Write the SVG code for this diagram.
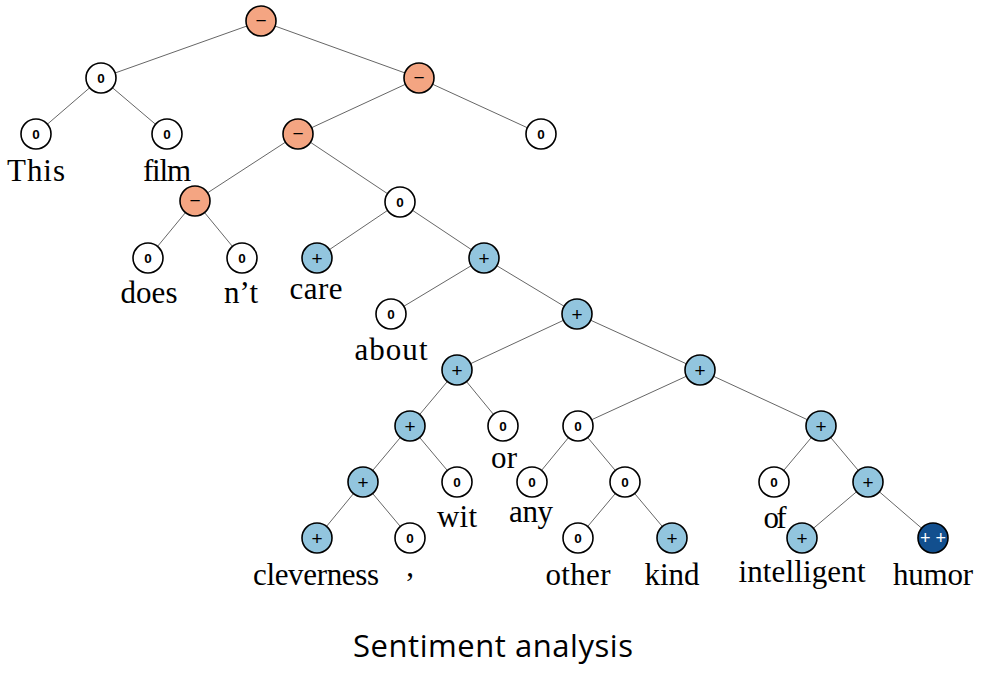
<svg xmlns="http://www.w3.org/2000/svg" width="987" height="691" viewBox="0 0 987 691">
<style>
.e{stroke:#666;stroke-width:1;fill:none}
.n circle{stroke:#000;stroke-width:1.6}
.z circle{fill:#fff}
.m circle{fill:#f4a582}
.p circle{fill:#92c5de}
.pp circle{fill:#124f8e}
.n text{font-family:"Liberation Sans",Arial,sans-serif;text-anchor:middle}
.z text{font-size:13.5px;font-weight:bold;fill:#000}
.m text,.p text{font-size:19px;fill:#000}
.pp text{font-size:18px;fill:#fff}
.w{font-family:"Liberation Serif","Times New Roman",serif;font-size:31px;fill:#000;text-anchor:middle}
.cap{font-family:"Open Sans","Liberation Sans",sans-serif;font-size:31px;fill:#000;text-anchor:middle}
</style>
<rect width="987" height="691" fill="#fff"/>
<g id="edges">
<line class="e" x1="261" y1="21" x2="101" y2="78"/>
<line class="e" x1="261" y1="21" x2="419" y2="78"/>
<line class="e" x1="101" y1="78" x2="36" y2="134"/>
<line class="e" x1="101" y1="78" x2="167" y2="134"/>
<line class="e" x1="419" y1="78" x2="298" y2="134"/>
<line class="e" x1="419" y1="78" x2="541" y2="134"/>
<line class="e" x1="298" y1="134" x2="195" y2="201"/>
<line class="e" x1="298" y1="134" x2="400" y2="202"/>
<line class="e" x1="195" y1="201" x2="148" y2="258"/>
<line class="e" x1="195" y1="201" x2="242" y2="258"/>
<line class="e" x1="400" y1="202" x2="317" y2="258"/>
<line class="e" x1="400" y1="202" x2="484" y2="258"/>
<line class="e" x1="484" y1="258" x2="391" y2="314"/>
<line class="e" x1="484" y1="258" x2="577" y2="314"/>
<line class="e" x1="577" y1="314" x2="457" y2="370"/>
<line class="e" x1="577" y1="314" x2="700" y2="370"/>
<line class="e" x1="457" y1="370" x2="410" y2="426"/>
<line class="e" x1="457" y1="370" x2="503" y2="426"/>
<line class="e" x1="700" y1="370" x2="578" y2="426"/>
<line class="e" x1="700" y1="370" x2="821" y2="426"/>
<line class="e" x1="410" y1="426" x2="363" y2="482"/>
<line class="e" x1="410" y1="426" x2="457" y2="482"/>
<line class="e" x1="578" y1="426" x2="532" y2="482"/>
<line class="e" x1="578" y1="426" x2="625" y2="482"/>
<line class="e" x1="821" y1="426" x2="774" y2="482"/>
<line class="e" x1="821" y1="426" x2="868" y2="482"/>
<line class="e" x1="363" y1="482" x2="317" y2="538"/>
<line class="e" x1="363" y1="482" x2="410" y2="538"/>
<line class="e" x1="625" y1="482" x2="578" y2="538"/>
<line class="e" x1="625" y1="482" x2="672" y2="538"/>
<line class="e" x1="868" y1="482" x2="802" y2="538"/>
<line class="e" x1="868" y1="482" x2="933" y2="538"/>
</g>
<g id="n1" class="n m"><circle cx="261" cy="21" r="15"/><text x="261" y="27">−</text></g>
<g id="n2" class="n z"><circle cx="101" cy="78" r="15"/><text x="101" y="83">0</text></g>
<g id="n3" class="n z"><circle cx="36" cy="134" r="15"/><text x="36" y="139">0</text></g>
<g id="n4" class="n z"><circle cx="167" cy="134" r="15"/><text x="167" y="139">0</text></g>
<g id="n5" class="n m"><circle cx="419" cy="78" r="15"/><text x="419" y="84">−</text></g>
<g id="n6" class="n m"><circle cx="298" cy="134" r="15"/><text x="298" y="140">−</text></g>
<g id="n7" class="n z"><circle cx="541" cy="134" r="15"/><text x="541" y="139">0</text></g>
<g id="n8" class="n m"><circle cx="195" cy="201" r="15"/><text x="195" y="207">−</text></g>
<g id="n9" class="n z"><circle cx="400" cy="202" r="15"/><text x="400" y="207">0</text></g>
<g id="n10" class="n z"><circle cx="148" cy="258" r="15"/><text x="148" y="263">0</text></g>
<g id="n11" class="n z"><circle cx="242" cy="258" r="15"/><text x="242" y="263">0</text></g>
<g id="n12" class="n p"><circle cx="317" cy="258" r="15"/><text x="317" y="264.5">+</text></g>
<g id="n13" class="n p"><circle cx="484" cy="258" r="15"/><text x="484" y="264.5">+</text></g>
<g id="n14" class="n z"><circle cx="391" cy="314" r="15"/><text x="391" y="319">0</text></g>
<g id="n15" class="n p"><circle cx="577" cy="314" r="15"/><text x="577" y="320.5">+</text></g>
<g id="n16" class="n p"><circle cx="457" cy="370" r="15"/><text x="457" y="376.5">+</text></g>
<g id="n17" class="n p"><circle cx="700" cy="370" r="15"/><text x="700" y="376.5">+</text></g>
<g id="n18" class="n p"><circle cx="410" cy="426" r="15"/><text x="410" y="432.5">+</text></g>
<g id="n19" class="n z"><circle cx="503" cy="426" r="15"/><text x="503" y="431">0</text></g>
<g id="n20" class="n z"><circle cx="578" cy="426" r="15"/><text x="578" y="431">0</text></g>
<g id="n21" class="n p"><circle cx="821" cy="426" r="15"/><text x="821" y="432.5">+</text></g>
<g id="n22" class="n p"><circle cx="363" cy="482" r="15"/><text x="363" y="488.5">+</text></g>
<g id="n23" class="n z"><circle cx="457" cy="482" r="15"/><text x="457" y="487">0</text></g>
<g id="n24" class="n z"><circle cx="532" cy="482" r="15"/><text x="532" y="487">0</text></g>
<g id="n25" class="n z"><circle cx="625" cy="482" r="15"/><text x="625" y="487">0</text></g>
<g id="n26" class="n z"><circle cx="774" cy="482" r="15"/><text x="774" y="487">0</text></g>
<g id="n27" class="n p"><circle cx="868" cy="482" r="15"/><text x="868" y="488.5">+</text></g>
<g id="n28" class="n p"><circle cx="317" cy="538" r="15"/><text x="317" y="544.5">+</text></g>
<g id="n29" class="n z"><circle cx="410" cy="538" r="15"/><text x="410" y="543">0</text></g>
<g id="n30" class="n z"><circle cx="578" cy="538" r="15"/><text x="578" y="543">0</text></g>
<g id="n31" class="n p"><circle cx="672" cy="538" r="15"/><text x="672" y="544.5">+</text></g>
<g id="n32" class="n p"><circle cx="802" cy="538" r="15"/><text x="802" y="544.5">+</text></g>
<g id="n33" class="n pp"><circle cx="933" cy="538" r="15"/><text x="933" y="544">+ +</text></g>
<g id="words">
<text class="w" x="36" y="181" textLength="58">This</text>
<text class="w" x="167" y="181" textLength="48">film</text>
<text class="w" x="149" y="303" textLength="57">does</text>
<text class="w" x="241" y="303" textLength="34">n’t</text>
<text class="w" x="316" y="299" textLength="53">care</text>
<text class="w" x="391" y="360" textLength="73">about</text>
<text class="w" x="504" y="468" textLength="26">or</text>
<text class="w" x="457" y="527" textLength="40">wit</text>
<text class="w" x="531" y="522" textLength="44">any</text>
<text class="w" x="775" y="528" textLength="23">of</text>
<text class="w" x="316" y="585" textLength="126">cleverness</text>
<text class="w" x="410" y="576">,</text>
<text class="w" x="578" y="585" textLength="65">other</text>
<text class="w" x="672" y="585" textLength="55">kind</text>
<text class="w" x="802" y="582" textLength="127">intelligent</text>
<text class="w" x="933" y="585" textLength="80">humor</text>
</g>
<text class="cap" x="493" y="657" textLength="280">Sentiment analysis</text>
</svg>
